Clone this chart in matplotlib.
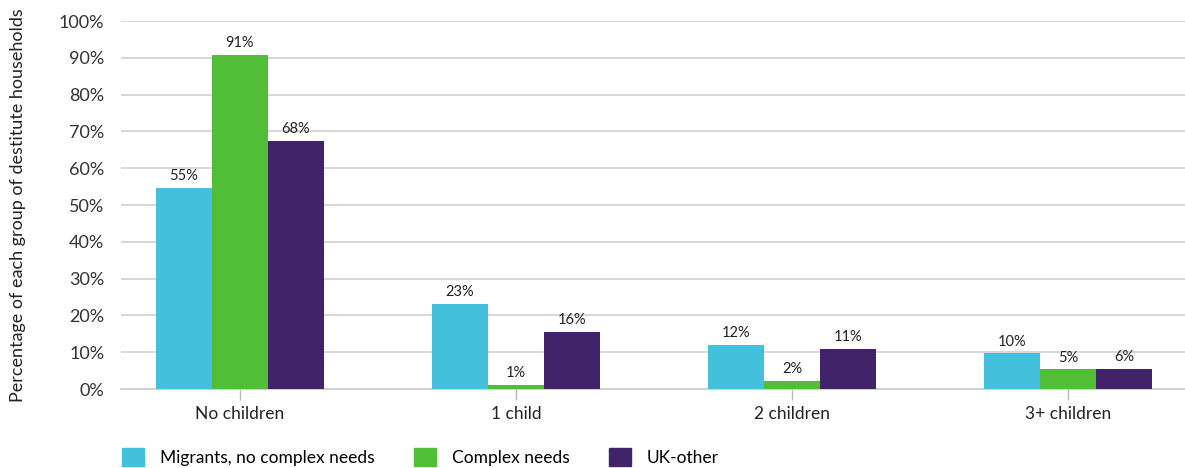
import matplotlib
matplotlib.use("Agg")
import matplotlib.pyplot as plt
import numpy as np
from matplotlib.patches import Patch

categories = ["No children", "1 child", "2 children", "3+ children"]
series_names = ["Migrants, no complex needs", "Complex needs", "UK-other"]
migrants = [54.7, 23.2, 12.0, 9.7]
complex_needs = [90.7, 1.2, 2.3, 5.3]
uk_other = [67.4, 15.6, 11.0, 5.5]
labels_migrants = ["55%", "23%", "12%", "10%"]
labels_complex = ["91%", "1%", "2%", "5%"]
labels_uk = ["68%", "16%", "11%", "6%"]
colors = ["#43C0DB", "#52BE37", "#41236A"]

plt.rcParams['font.family'] = ['Lato', 'DejaVu Sans']

W, H = 1185, 468
fig = plt.figure(figsize=(W / 100, H / 100), dpi=100)
left, right, top, bottom = 121, 1185, 21, 389
ax = fig.add_axes([left / W, 1 - bottom / H, (right - left) / W, (bottom - top) / H])

x = np.arange(len(categories))
bw = 0.203
data = [migrants, complex_needs, uk_other]
labs = [labels_migrants, labels_complex, labels_uk]
for i, (vals, lab, c) in enumerate(zip(data, labs, colors)):
    pos = x + (i - 1) * bw
    ax.bar(pos, vals, width=bw, color=c, zorder=3)
    for p, v, t in zip(pos, vals, lab):
        ax.text(p, v + 1.3, t, ha="center", va="bottom", fontsize=10.5, color="#222222")

ax.set_xlim(-0.431, 3.424)
ax.set_ylim(0, 100)
ax.set_yticks(np.arange(0, 101, 10))
ax.set_yticklabels([f"{v}%" for v in range(0, 101, 10)], fontsize=13, color="#333333")
ax.set_xticks(x)
ax.set_xticklabels(categories, fontsize=12.5, color="#222222")
ax.tick_params(axis="y", length=0, pad=12)
ax.tick_params(axis="x", length=8, width=1, color="#bbbbbb", pad=4)
ax.grid(axis="y", color="#d4d4d4", linewidth=1.3, zorder=0)
for s in ["top", "right", "left"]:
    ax.spines[s].set_visible(False)
ax.spines["bottom"].set_color("#cccccc")
ax.spines["bottom"].set_linewidth(1.3)
ax.spines["bottom"].set_zorder(1)

fig.text(18 / W, 1 - 205 / H, "Percentage of each group of destitute households",
         rotation=90, ha="center", va="center", fontsize=13, color="#222222")

handles = [Patch(color=c) for c in colors]
fig.legend(handles, series_names, loc="center left", bbox_to_anchor=(106 / W, 1 - 457 / H),
           ncol=3, frameon=False, fontsize=12.5, handlelength=1.3, handleheight=1.3,
           handletextpad=0.9, columnspacing=2.25)

fig.savefig("out.png", dpi=100)
